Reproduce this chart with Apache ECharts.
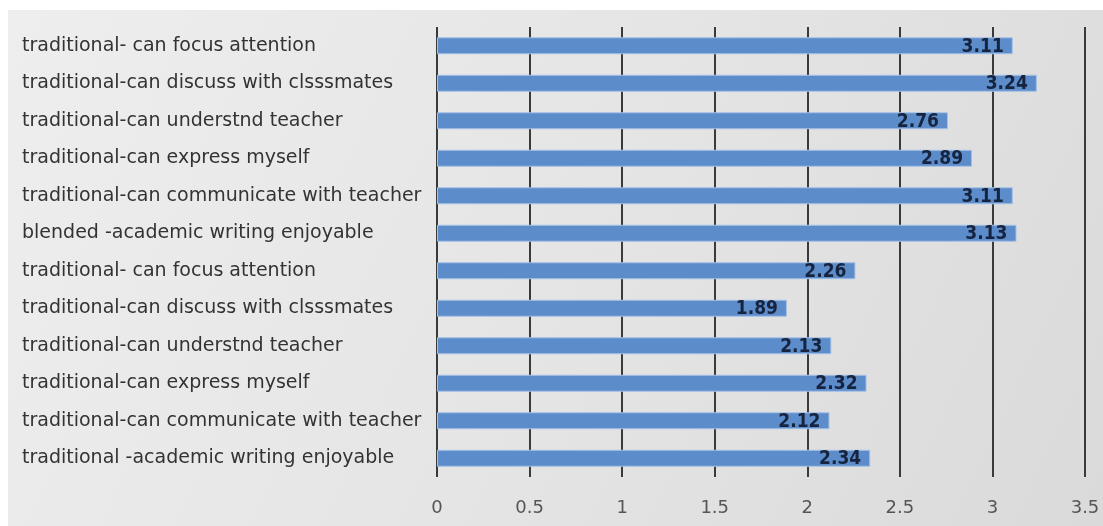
<!DOCTYPE html>
<html><head><meta charset="utf-8">
<script src="https://cdn.jsdelivr.net/npm/echarts@6/dist/echarts.min.js"></script>
<style>html,body{margin:0;padding:0;background:#fff}#c{width:1103px;height:526px}</style>
</head><body><div id="c"></div>
<script>
const categories = [
  "traditional- can focus attention",
  "traditional-can discuss with clsssmates",
  "traditional-can understnd teacher",
  "traditional-can express myself",
  "traditional-can communicate with teacher",
  "blended -academic writing enjoyable",
  "traditional- can focus attention",
  "traditional-can discuss with clsssmates",
  "traditional-can understnd teacher",
  "traditional-can express myself",
  "traditional-can communicate with teacher",
  "traditional -academic writing enjoyable"
];
const values = [3.11, 3.24, 2.76, 2.89, 3.11, 3.13, 2.26, 1.89, 2.13, 2.32, 2.12, 2.34];
const xTicks = [0, 0.5, 1, 1.5, 2, 2.5, 3, 3.5];

const chart = echarts.init(document.getElementById('c'));
chart.setOption({
  animation: false,
  graphic: [{
    type: 'rect', z: -10, silent: true,
    shape: {x: 8, y: 10, width: 1095, height: 516},
    style: {fill: new echarts.graphic.LinearGradient(0, 0, 1, 1, [
      {offset: 0, color: '#eeeeee'}, {offset: 0.5, color: '#e5e5e5'}, {offset: 1, color: '#dadada'}])}
  }],
  grid: {left: 437, right: 18, top: 27, bottom: 49},
  xAxis: {
    type: 'value', min: 0, max: 3.5, interval: 0.5,
    axisLine: {show: false}, axisTick: {show: false},
    splitLine: {show: true, lineStyle: {color: '#3a3a3a', width: 2}},
    axisLabel: {color: '#555', fontSize: 18, fontFamily: 'DejaVu Sans', margin: 22,
      formatter: v => xTicks.includes(v) ? String(v) : ''}
  },
  yAxis: {
    type: 'category', data: categories, inverse: true,
    axisLine: {show: false}, axisTick: {show: false},
    axisLabel: {align: 'left', margin: 415, color: '#333', fontSize: 19, fontFamily: 'DejaVu Sans',
      padding: [5, 0, 0, 0]}
  },
  series: [{
    type: 'bar', data: values, barWidth: 17,
    itemStyle: {color: '#5c8cca', borderColor: '#a6c1e6', borderWidth: 1},
    label: {show: true, position: 'insideRight', offset: [-4, 1], color: '#17243f', fontWeight: 'bold',
      fontSize: 19, fontFamily: 'Liberation Sans Narrow, DejaVu Sans Condensed, sans-serif'}
  }]
});
</script></body></html>
